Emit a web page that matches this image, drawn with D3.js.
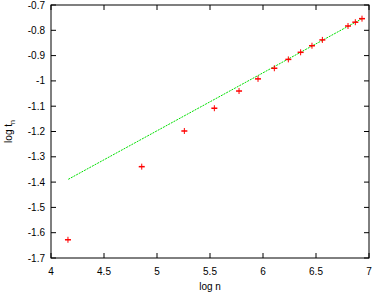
<!DOCTYPE html>
<html>
<head>
<meta charset="utf-8">
<script src="https://cdn.jsdelivr.net/npm/d3@7"></script>
<style>
  body { margin: 0; background: #fff; }
  svg text { font-family: "Liberation Sans", Arial, sans-serif; font-size: 10px; fill: #000; }
</style>
</head>
<body>
<svg id="chart" width="374" height="293"></svg>
<script>
// measured points (log n, log t_n) and their error half-widths
const logN = [4.16, 4.856, 5.258, 5.541, 5.774, 5.953, 6.107, 6.239, 6.355, 6.462, 6.56, 6.802, 6.871, 6.934];
const logT = [-1.628, -1.339, -1.198, -1.108, -1.040, -0.992, -0.950, -0.915, -0.887, -0.861, -0.838, -0.783, -0.768, -0.754];
const errT = [0.004, 0.004, 0.004, 0.004, 0.004, 0.004, 0.004, 0.004, 0.004, 0.004, 0.004, 0.004, 0.004, 0.006];

// fitted line end points
const fitX = [4.163, 6.934];
const fitY = [-1.389, -0.754];

const xTicks = [4, 4.5, 5, 5.5, 6, 6.5, 7];
const yTicks = [-0.7, -0.8, -0.9, -1, -1.1, -1.2, -1.3, -1.4, -1.5, -1.6, -1.7];

const M = {left: 51, right: 369, top: 5, bottom: 258};
const svg = d3.select('#chart');

const x = d3.scaleLinear().domain([4, 7]).range([M.left, M.right]);
const y = d3.scaleLinear().domain([-1.7, -0.7]).range([M.bottom, M.top]);

// fit line
svg.append('line')
  .attr('x1', x(fitX[0])).attr('y1', y(fitY[0]))
  .attr('x2', x(fitX[1])).attr('y2', y(fitY[1]))
  .attr('stroke', '#00e000')
  .attr('stroke-width', 1)
  .attr('stroke-dasharray', '2,1');

// points with error bars
const pts = svg.append('g').attr('stroke', '#ff0000');
logN.forEach((n, i) => {
  const cx = x(n), cy = y(logT[i]);
  pts.append('line').attr('x1', cx - 3).attr('x2', cx + 3).attr('y1', cy).attr('y2', cy)
    .attr('stroke-width', 1.5);
  const h = Math.max(3, y(logT[i] - errT[i]) - cy);
  pts.append('line').attr('x1', cx).attr('x2', cx).attr('y1', cy - h).attr('y2', cy + h)
    .attr('stroke-width', 1);
});

// frame
svg.append('rect')
  .attr('x', M.left).attr('y', M.top)
  .attr('width', M.right - M.left).attr('height', M.bottom - M.top)
  .attr('fill', 'none').attr('stroke', '#000').attr('stroke-width', 1);

// inward ticks, mirrored
const tk = 5;
const ticks = svg.append('g').attr('stroke', '#000').attr('stroke-width', 1);
xTicks.forEach((t) => {
  ticks.append('line').attr('x1', x(t)).attr('x2', x(t)).attr('y1', M.bottom).attr('y2', M.bottom - tk);
  ticks.append('line').attr('x1', x(t)).attr('x2', x(t)).attr('y1', M.top).attr('y2', M.top + tk);
  svg.append('text').attr('x', x(t)).attr('y', M.bottom + 17)
    .attr('text-anchor', 'middle').text(t);
});
yTicks.forEach((t) => {
  ticks.append('line').attr('x1', M.left).attr('x2', M.left + tk).attr('y1', y(t)).attr('y2', y(t));
  ticks.append('line').attr('x1', M.right).attr('x2', M.right - tk).attr('y1', y(t)).attr('y2', y(t));
  svg.append('text').attr('x', M.left - 6).attr('y', y(t) + 3.5)
    .attr('text-anchor', 'end').text(t);
});

// axis labels
svg.append('text').attr('x', 210).attr('y', 290).attr('text-anchor', 'middle').text('log n');
const yl = svg.append('text')
  .attr('transform', `translate(12,${(M.top + M.bottom) / 2}) rotate(-90)`)
  .attr('text-anchor', 'middle');
yl.append('tspan').text('log t');
yl.append('tspan').attr('dy', 3).attr('font-size', 7).text('n');
</script>
</body>
</html>
